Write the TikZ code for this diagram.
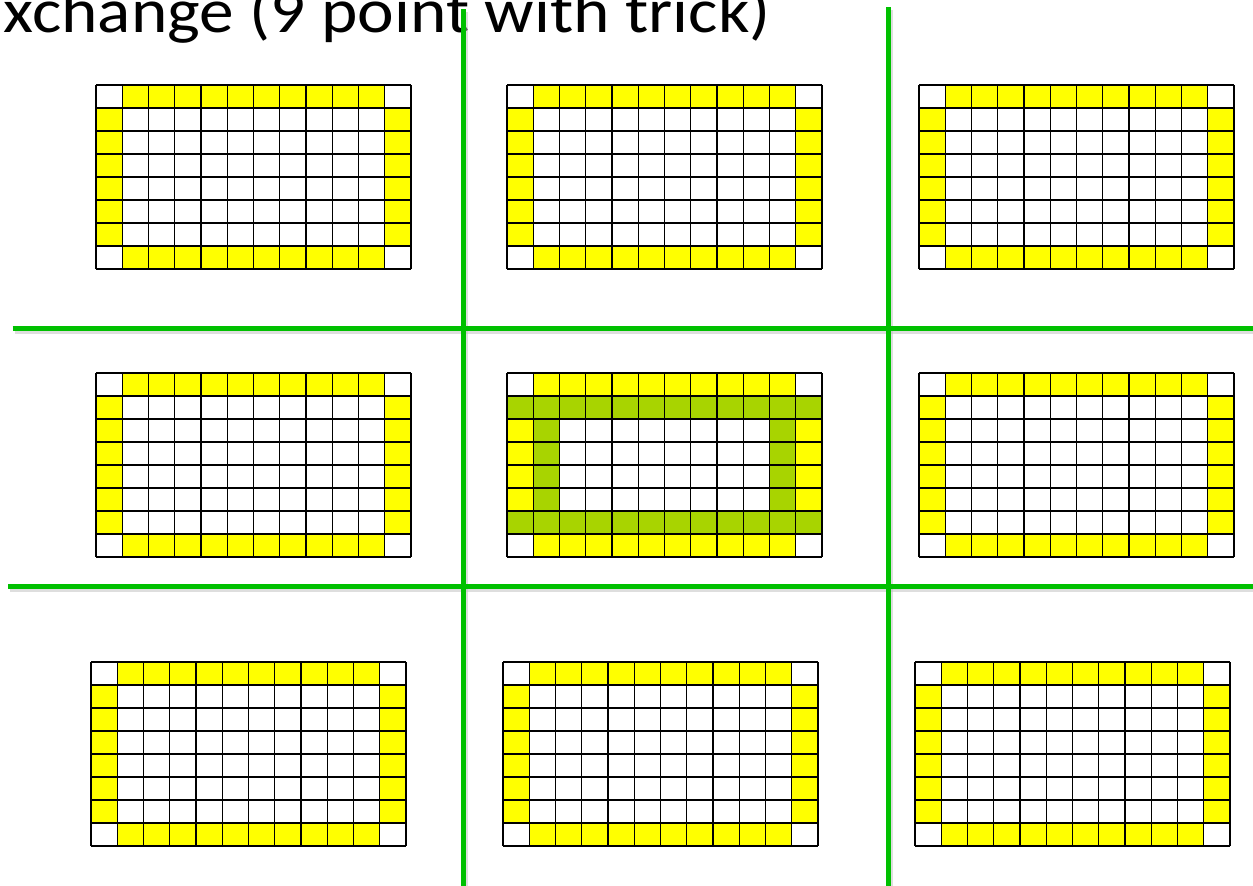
\documentclass[tikz,border=0pt]{standalone}
\usepackage{fontspec}
\setmainfont{Carlito}
\usepackage{xcolor}
\usepackage{tikz}
\definecolor{haloyellow}{HTML}{FFFF00}
\definecolor{ringgreen}{HTML}{A8D400}
\definecolor{splitgreen}{HTML}{00C000}
\def\cw{26.25}
\def\ch{23}
\tikzset{
  cellline/.style={draw=black, line width=1.4pt},
  splitline/.style={draw=splitgreen, line width=5pt},
  splitshadow/.style={draw=black!25, line width=5pt, opacity=0.5}
}
% one 12x8 block with its yellow halo
\newcommand{\haloblock}[2]{%
  \begin{scope}[shift={(#1,#2)}]
    \fill[haloyellow] (\cw,0) rectangle (11*\cw,\ch);
    \fill[haloyellow] (\cw,7*\ch) rectangle (11*\cw,8*\ch);
    \fill[haloyellow] (0,\ch) rectangle (\cw,7*\ch);
    \fill[haloyellow] (11*\cw,\ch) rectangle (12*\cw,7*\ch);
  \end{scope}}
\newcommand{\blocklines}[2]{%
  \begin{scope}[shift={(#1,#2)}]
    \foreach \i in {0,...,12}
      \draw[cellline] (\i*\cw,0) -- (\i*\cw,8*\ch);
    \foreach \j in {0,...,8}
      \draw[cellline] (0,\j*\ch) -- (12*\cw,\j*\ch);
  \end{scope}}
\begin{document}
\begin{tikzpicture}[x=1pt, y=-1pt]
  \useasboundingbox (0,0) rectangle (1253,886);
  \fill[white] (0,0) rectangle (1253,886);

  % title
  \node[anchor=base east, inner sep=0pt, xscale=1.1, transform shape, font=\fontsize{63}{72}\selectfont] (title) at (771,32) {xchange (9 point with trick)};

  % blocks
  \foreach \bx/\by in {96/85, 507/85, 919/85, 96/373, 507/373, 919/373, 91/662, 503/662, 915/662}
    \haloblock{\bx}{\by};
  % ring on the middle block
  \begin{scope}[shift={(507,373)}]
    \fill[ringgreen] (0,\ch) rectangle (12*\cw,2*\ch);
    \fill[ringgreen] (0,6*\ch) rectangle (12*\cw,7*\ch);
    \fill[ringgreen] (\cw,2*\ch) rectangle (2*\cw,6*\ch);
    \fill[ringgreen] (10*\cw,2*\ch) rectangle (11*\cw,6*\ch);
  \end{scope}
  \foreach \bx/\by in {96/85, 507/85, 919/85, 96/373, 507/373, 919/373, 91/662, 503/662, 915/662}
    \blocklines{\bx}{\by};

  % green split lines
  \draw[splitshadow] (465.5,12) -- (465.5,886);
  \draw[splitshadow] (890.5,10) -- (890.5,886);
  \draw[splitshadow] (14.5,331) -- (1253,331);
  \draw[splitshadow] (10,589.5) -- (1253,589.5);
  \draw[splitline] (463.5,9) -- (463.5,886);
  \draw[splitline] (888.5,7) -- (888.5,886);
  \draw[splitline] (12.5,328) -- (1253,328);
  \draw[splitline] (8,586.5) -- (1253,586.5);
\end{tikzpicture}
\end{document}
